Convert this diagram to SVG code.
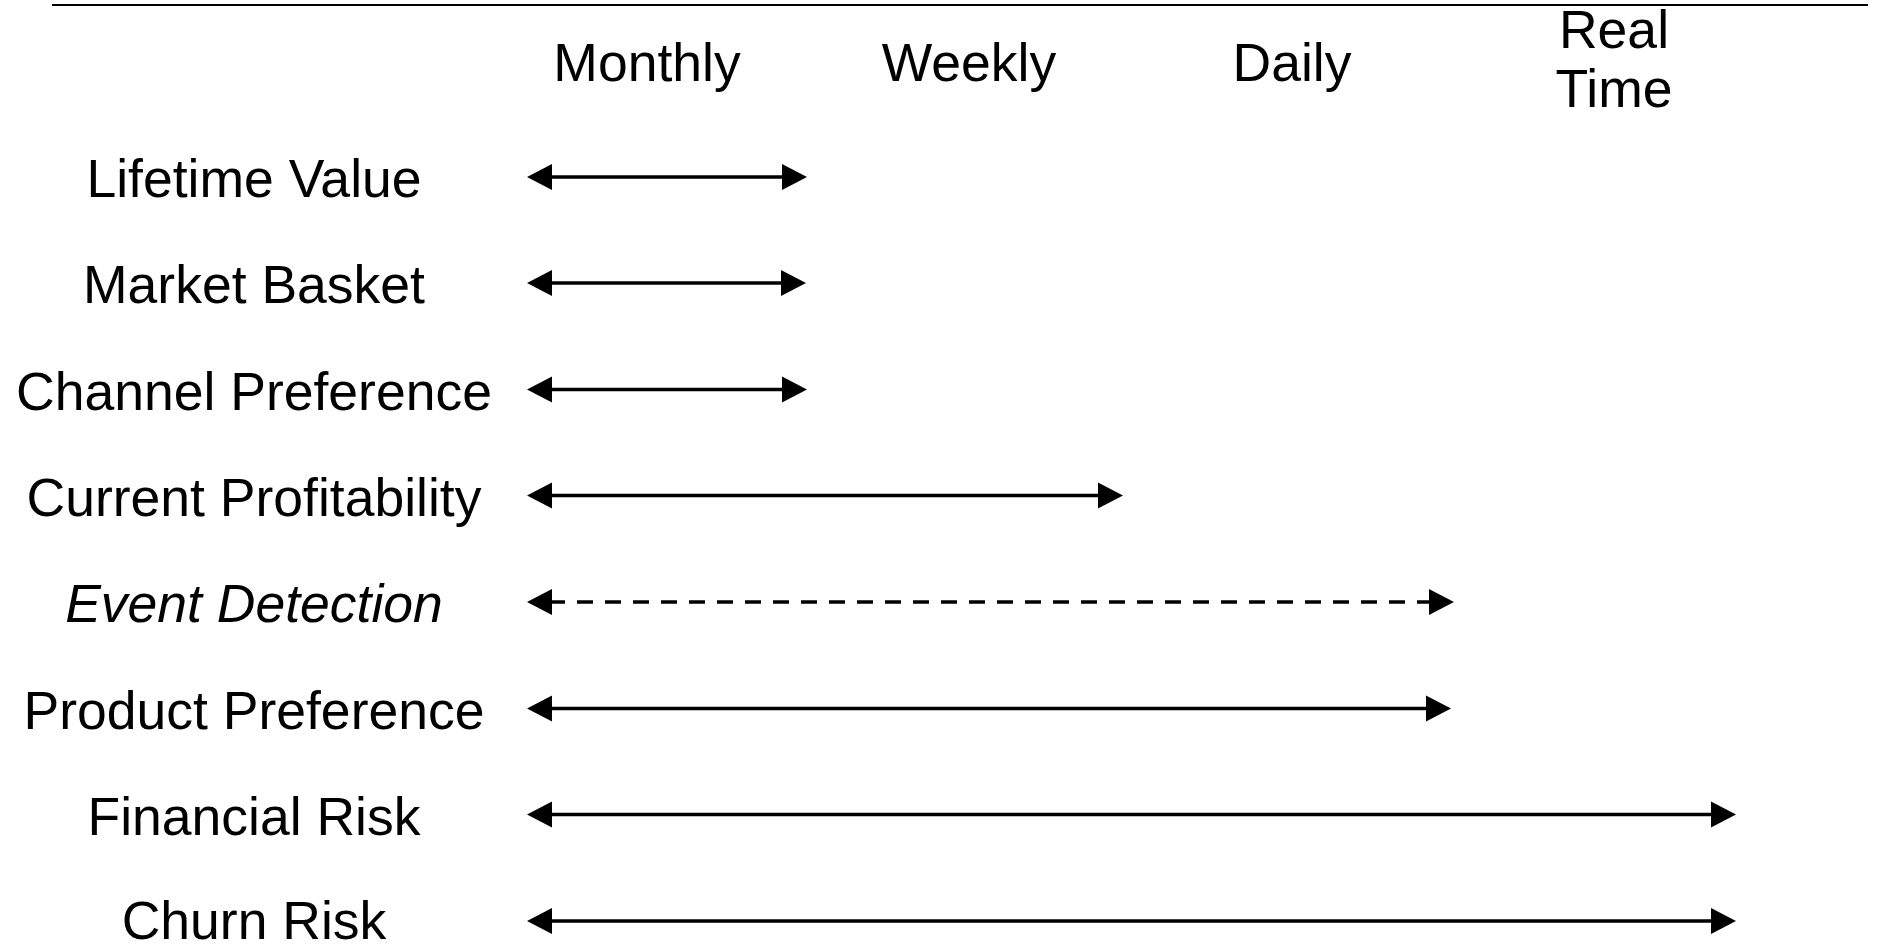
<svg xmlns="http://www.w3.org/2000/svg" width="1878" height="945" viewBox="0 0 1878 945">
<style>
text{font-family:"Liberation Sans",Arial,sans-serif;font-size:53.5px;fill:#000;text-anchor:middle}
.it{font-style:italic}
.ln{stroke:#000;stroke-width:3.3;fill:none}
.dash{stroke-dasharray:16 12}
.hd{fill:#000}
</style>
<rect width="1878" height="945" fill="#fff"/>
<line x1="52" y1="5" x2="1868" y2="5" stroke="#000" stroke-width="2"/>
<g id="headers">
<text x="647" y="81">Monthly</text>
<text x="969" y="81">Weekly</text>
<text x="1292" y="81">Daily</text>
<text x="1614" y="48">Real</text>
<text x="1614" y="107">Time</text>
</g>
<g id="labels">
<g id="n1"><text x="254" y="197">Lifetime Value</text></g>
<g id="n2"><text x="254" y="303">Market Basket</text></g>
<g id="n3"><text x="254" y="410">Channel Preference</text></g>
<g id="n4"><text x="254" y="516">Current Profitability</text></g>
<g id="n5"><text class="it" x="254" y="622">Event Detection</text></g>
<g id="n6"><text x="254" y="729">Product Preference</text></g>
<g id="n7"><text x="254" y="835">Financial Risk</text></g>
<g id="n8"><text x="254" y="939">Churn Risk</text></g>
</g>
<g id="connectors">
<g><line class="ln" x1="549" y1="177" x2="785" y2="177"/><polygon class="hd" points="527,177 552,164 552,190"/><polygon class="hd" points="807,177 782,164 782,190"/></g>
<g><line class="ln" x1="549" y1="283" x2="784" y2="283"/><polygon class="hd" points="527,283 552,270 552,296"/><polygon class="hd" points="806,283 781,270 781,296"/></g>
<g><line class="ln" x1="549" y1="389.5" x2="784" y2="389.5"/><polygon class="hd" points="527,389.5 552,376.5 552,402.5"/><polygon class="hd" points="807,389.5 782,376.5 782,402.5"/></g>
<g><line class="ln" x1="549" y1="495.5" x2="1101" y2="495.5"/><polygon class="hd" points="527,495.5 552,482.5 552,508.5"/><polygon class="hd" points="1123,495.5 1098,482.5 1098,508.5"/></g>
<g><line class="ln dash" x1="549" y1="602" x2="1432" y2="602"/><polygon class="hd" points="527,602 552,589 552,615"/><polygon class="hd" points="1454,602 1429,589 1429,615"/></g>
<g><line class="ln" x1="549" y1="708.5" x2="1429" y2="708.5"/><polygon class="hd" points="527,708.5 552,695.5 552,721.5"/><polygon class="hd" points="1451,708.5 1426,695.5 1426,721.5"/></g>
<g><line class="ln" x1="549" y1="814.5" x2="1714" y2="814.5"/><polygon class="hd" points="527,814.5 552,801.5 552,827.5"/><polygon class="hd" points="1736,814.5 1711,801.5 1711,827.5"/></g>
<g><line class="ln" x1="549" y1="921" x2="1714" y2="921"/><polygon class="hd" points="527,921 552,908 552,934"/><polygon class="hd" points="1736,921 1711,908 1711,934"/></g>
</g>
</svg>
